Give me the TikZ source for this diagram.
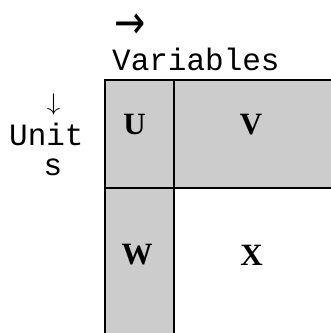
\documentclass[tikz,border=0pt]{standalone}
\usepackage{fontspec}
\usepackage{graphicx}
\setmainfont{Liberation Serif}
\newfontfamily\monofnt{Liberation Mono}
\newfontfamily\arrowfnt{DejaVu Sans}
\definecolor{cellgray}{HTML}{CCCCCC}
\tikzset{
  lbl/.style={inner sep=0pt, font=\monofnt\fontsize{31}{31}\selectfont},
  cellltr/.style={inner sep=0pt, font=\bfseries\fontsize{31}{31}\selectfont},
  gridline/.style={line width=2pt, black},
  arrowglyph/.style={inner sep=0pt, font=\arrowfnt\fontsize{31}{31}\selectfont},
}
\begin{document}
\begin{tikzpicture}[x=1pt,y=1pt]
\useasboundingbox (0,0) rectangle (331,-333);
\fill[cellgray] (105,-80) rectangle (174,-333);
\fill[cellgray] (174,-80) rectangle (331,-188);
\coordinate (tl) at (105,-80);
\coordinate (tr) at (332,-80);
\coordinate (bl) at (105,-334);
\coordinate (mt) at (174,-80);
\coordinate (mb) at (174,-334);
\coordinate (ml) at (105,-188);
\coordinate (mr) at (332,-188);
\draw[gridline] (tr) -- (tl) -- (bl);
\draw[gridline] (mt) -- (mb);
\draw[gridline] (ml) -- (mr);
\node[cellltr] (u) at (134.5,-124.5) {U};
\node[cellltr] (v) at (251,-124.5) {V};
\node[cellltr] (w) at (137,-255) {W};
\node[cellltr] (x) at (251.5,-255) {X};
\node[lbl, anchor=base west] (vars) at (112,-70) {Variables};
\node[arrowglyph] (ra) at (130,-26) {\scalebox{1.2}[1.5]{→}};
\node[lbl, anchor=base west] (unit) at (9,-145) {Unit};
\node[lbl, anchor=base] (s) at (53,-175) {s};
\node[inner sep=0pt] (da) at (53.5,-104) {\scalebox{2.7}[2.4]{$\downarrow$}};
\end{tikzpicture}
\end{document}
